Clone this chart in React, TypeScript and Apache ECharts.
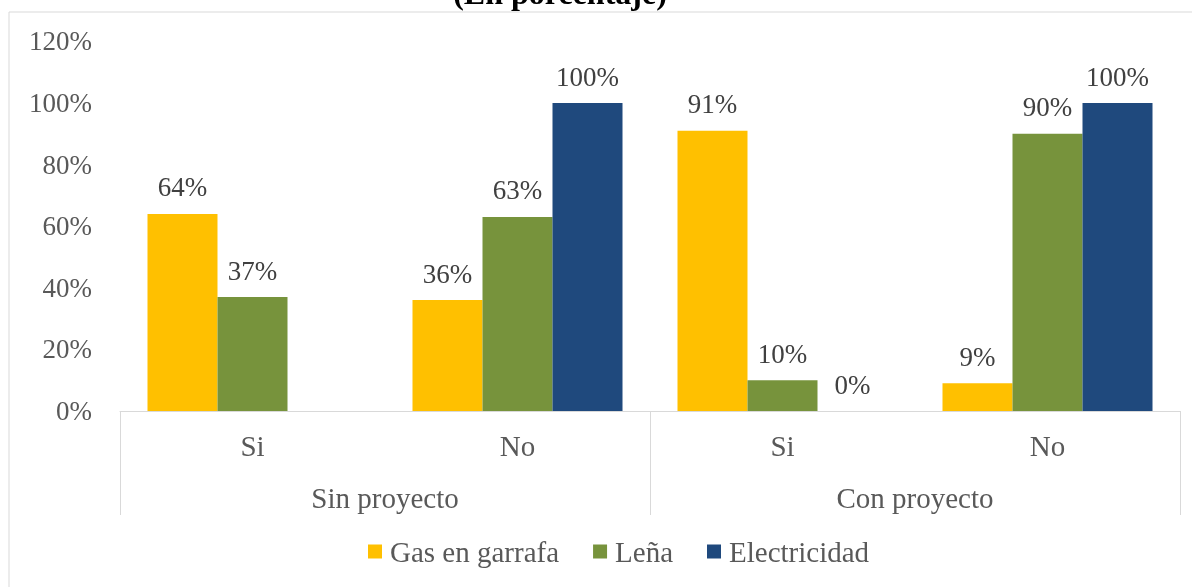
import React, { useEffect, useRef } from "react";
import * as echarts from "echarts";

const subCategories = ["Si", "No", "Si", "No"];
const groupCategories = ["Sin proyecto", "Con proyecto"];
const seriesNames = ["Gas en garrafa", "Leña", "Electricidad"];
const gasValues: (number | string)[] = [64, 36, 91, 9];
const lenaValues: (number | string)[] = [37, 63, 10, 90];
const elecValues: (number | string)[] = ["-", 100, 0, 100];
const colors = ["#FFC000", "#77933C", "#1F497D"];

const FONT = "'Liberation Serif', 'Times New Roman', serif";

export default function App() {
  const ref = useRef<HTMLDivElement>(null);
  useEffect(() => {
    if (!ref.current) return;
    const chart = echarts.init(ref.current, null, { renderer: "svg" });
    const values = [gasValues, lenaValues, elecValues];
    chart.setOption({
      animation: false,
      textStyle: { fontFamily: FONT },
      graphic: [
        {
          type: "rect",
          shape: { x: 9, y: 12, width: 1200, height: 600 },
          style: { fill: "none", stroke: "#d9d9d9", lineWidth: 1 },
          silent: true,
        },
        {
          type: "text",
          x: 560,
          y: -7,
          style: {
            text: "(En porcentaje)",
            font: `bold 32px ${FONT}`,
            fill: "#000",
            align: "center",
            verticalAlign: "middle",
          },
        },
      ],
      grid: { left: 120, right: 12, top: 41.4, bottom: 176, outerBoundsMode: "none" },
      legend: {
        bottom: 16,
        left: 363,
        itemWidth: 14,
        itemHeight: 14,
        itemGap: 34,
        icon: "rect",
        data: seriesNames,
        textStyle: { fontFamily: FONT, fontSize: 29, color: "#595959", padding: [0, 0, 0, 3] },
      },
      xAxis: [
        {
          type: "category",
          data: subCategories,
          axisLine: { show: true, lineStyle: { color: "#d9d9d9", width: 1 } },
          axisTick: { show: false },
          axisLabel: { fontFamily: FONT, fontSize: 29, color: "#595959", margin: 20 },
        },
        {
          type: "category",
          data: groupCategories,
          position: "bottom",
          axisLine: { show: false },
          axisTick: { show: true, length: 104, lineStyle: { color: "#d9d9d9", width: 1 } },
          axisLabel: { fontFamily: FONT, fontSize: 29, color: "#595959", margin: 72 },
        },
      ],
      yAxis: {
        type: "value",
        min: 0,
        max: 120,
        interval: 20,
        axisLine: { show: false },
        axisTick: { show: false },
        splitLine: { show: false },
        axisLabel: {
          formatter: "{value}%",
          fontFamily: FONT,
          fontSize: 27,
          color: "#595959",
          margin: 28,
        },
      },
      series: seriesNames.map((name, i) => ({
        name,
        type: "bar",
        xAxisIndex: 0,
        data: values[i],
        barGap: "0%",
        barCategoryGap: "20.75%",
        itemStyle: { color: colors[i] },
        label: {
          show: true,
          position: "top",
          distance: 13,
          formatter: "{c}%",
          fontFamily: FONT,
          fontSize: 27,
          color: "#404040",
        },
      })),
    });
    return () => chart.dispose();
  }, []);
  return (
    <div
      ref={ref}
      style={{ position: "fixed", left: 0, top: 0, width: 1192, height: 587 }}
    />
  );
}
